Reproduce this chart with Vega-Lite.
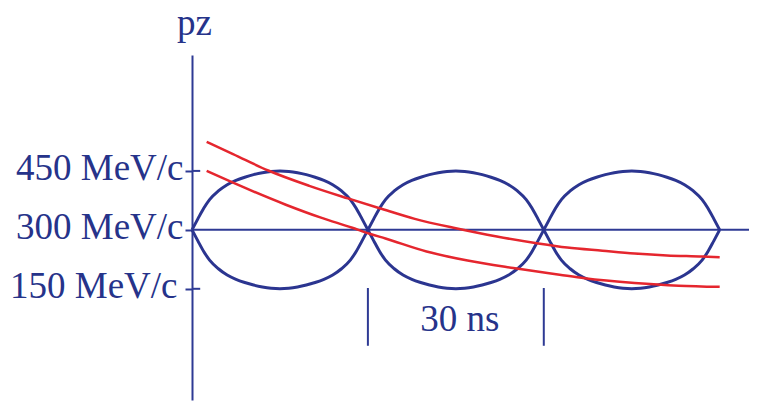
{
  "$schema": "https://vega.github.io/schema/vega-lite/v6.json",
  "autosize": {"type": "none"},
  "padding": {"left": 192, "top": 55, "right": 32, "bottom": 1},
  "width": 557,
  "height": 345,
  "background": "white",
  "config": {"view": {"stroke": null}},
  "datasets": {
    "buckets": [
      {"s": "b1u", "t": 0, "p": 300}, {"s": "b1u", "t": 1, "p": 328}, {"s": "b1u", "t": 2, "p": 355}, {"s": "b1u", "t": 3, "p": 377}, {"s": "b1u", "t": 4.5, "p": 399}, {"s": "b1u", "t": 6, "p": 415}, {"s": "b1u", "t": 7.5, "p": 426}, {"s": "b1u", "t": 9, "p": 434}, {"s": "b1u", "t": 10.5, "p": 440.5}, {"s": "b1u", "t": 12, "p": 445.5}, {"s": "b1u", "t": 13.5, "p": 448.8}, {"s": "b1u", "t": 15, "p": 450}, {"s": "b1u", "t": 16.5, "p": 448.8}, {"s": "b1u", "t": 18, "p": 445.5}, {"s": "b1u", "t": 19.5, "p": 440.5}, {"s": "b1u", "t": 21, "p": 434}, {"s": "b1u", "t": 22.5, "p": 426}, {"s": "b1u", "t": 24, "p": 415}, {"s": "b1u", "t": 25.5, "p": 399}, {"s": "b1u", "t": 27, "p": 377}, {"s": "b1u", "t": 28, "p": 355}, {"s": "b1u", "t": 29, "p": 328}, {"s": "b1u", "t": 30, "p": 300},
      {"s": "b1l", "t": 0, "p": 300}, {"s": "b1l", "t": 1, "p": 272}, {"s": "b1l", "t": 2, "p": 245}, {"s": "b1l", "t": 3, "p": 223}, {"s": "b1l", "t": 4.5, "p": 201}, {"s": "b1l", "t": 6, "p": 185}, {"s": "b1l", "t": 7.5, "p": 174}, {"s": "b1l", "t": 9, "p": 166}, {"s": "b1l", "t": 10.5, "p": 159.5}, {"s": "b1l", "t": 12, "p": 154.5}, {"s": "b1l", "t": 13.5, "p": 151.2}, {"s": "b1l", "t": 15, "p": 150}, {"s": "b1l", "t": 16.5, "p": 151.2}, {"s": "b1l", "t": 18, "p": 154.5}, {"s": "b1l", "t": 19.5, "p": 159.5}, {"s": "b1l", "t": 21, "p": 166}, {"s": "b1l", "t": 22.5, "p": 174}, {"s": "b1l", "t": 24, "p": 185}, {"s": "b1l", "t": 25.5, "p": 201}, {"s": "b1l", "t": 27, "p": 223}, {"s": "b1l", "t": 28, "p": 245}, {"s": "b1l", "t": 29, "p": 272}, {"s": "b1l", "t": 30, "p": 300},
      {"s": "b2u", "t": 30, "p": 300}, {"s": "b2u", "t": 31, "p": 328}, {"s": "b2u", "t": 32, "p": 355}, {"s": "b2u", "t": 33, "p": 377}, {"s": "b2u", "t": 34.5, "p": 399}, {"s": "b2u", "t": 36, "p": 415}, {"s": "b2u", "t": 37.5, "p": 426}, {"s": "b2u", "t": 39, "p": 434}, {"s": "b2u", "t": 40.5, "p": 440.5}, {"s": "b2u", "t": 42, "p": 445.5}, {"s": "b2u", "t": 43.5, "p": 448.8}, {"s": "b2u", "t": 45, "p": 450}, {"s": "b2u", "t": 46.5, "p": 448.8}, {"s": "b2u", "t": 48, "p": 445.5}, {"s": "b2u", "t": 49.5, "p": 440.5}, {"s": "b2u", "t": 51, "p": 434}, {"s": "b2u", "t": 52.5, "p": 426}, {"s": "b2u", "t": 54, "p": 415}, {"s": "b2u", "t": 55.5, "p": 399}, {"s": "b2u", "t": 57, "p": 377}, {"s": "b2u", "t": 58, "p": 355}, {"s": "b2u", "t": 59, "p": 328}, {"s": "b2u", "t": 60, "p": 300},
      {"s": "b2l", "t": 30, "p": 300}, {"s": "b2l", "t": 31, "p": 272}, {"s": "b2l", "t": 32, "p": 245}, {"s": "b2l", "t": 33, "p": 223}, {"s": "b2l", "t": 34.5, "p": 201}, {"s": "b2l", "t": 36, "p": 185}, {"s": "b2l", "t": 37.5, "p": 174}, {"s": "b2l", "t": 39, "p": 166}, {"s": "b2l", "t": 40.5, "p": 159.5}, {"s": "b2l", "t": 42, "p": 154.5}, {"s": "b2l", "t": 43.5, "p": 151.2}, {"s": "b2l", "t": 45, "p": 150}, {"s": "b2l", "t": 46.5, "p": 151.2}, {"s": "b2l", "t": 48, "p": 154.5}, {"s": "b2l", "t": 49.5, "p": 159.5}, {"s": "b2l", "t": 51, "p": 166}, {"s": "b2l", "t": 52.5, "p": 174}, {"s": "b2l", "t": 54, "p": 185}, {"s": "b2l", "t": 55.5, "p": 201}, {"s": "b2l", "t": 57, "p": 223}, {"s": "b2l", "t": 58, "p": 245}, {"s": "b2l", "t": 59, "p": 272}, {"s": "b2l", "t": 60, "p": 300},
      {"s": "b3u", "t": 60, "p": 300}, {"s": "b3u", "t": 61, "p": 328}, {"s": "b3u", "t": 62, "p": 355}, {"s": "b3u", "t": 63, "p": 377}, {"s": "b3u", "t": 64.5, "p": 399}, {"s": "b3u", "t": 66, "p": 415}, {"s": "b3u", "t": 67.5, "p": 426}, {"s": "b3u", "t": 69, "p": 434}, {"s": "b3u", "t": 70.5, "p": 440.5}, {"s": "b3u", "t": 72, "p": 445.5}, {"s": "b3u", "t": 73.5, "p": 448.8}, {"s": "b3u", "t": 75, "p": 450}, {"s": "b3u", "t": 76.5, "p": 448.8}, {"s": "b3u", "t": 78, "p": 445.5}, {"s": "b3u", "t": 79.5, "p": 440.5}, {"s": "b3u", "t": 81, "p": 434}, {"s": "b3u", "t": 82.5, "p": 426}, {"s": "b3u", "t": 84, "p": 415}, {"s": "b3u", "t": 85.5, "p": 399}, {"s": "b3u", "t": 87, "p": 377}, {"s": "b3u", "t": 88, "p": 355}, {"s": "b3u", "t": 89, "p": 328}, {"s": "b3u", "t": 90, "p": 300},
      {"s": "b3l", "t": 60, "p": 300}, {"s": "b3l", "t": 61, "p": 272}, {"s": "b3l", "t": 62, "p": 245}, {"s": "b3l", "t": 63, "p": 223}, {"s": "b3l", "t": 64.5, "p": 201}, {"s": "b3l", "t": 66, "p": 185}, {"s": "b3l", "t": 67.5, "p": 174}, {"s": "b3l", "t": 69, "p": 166}, {"s": "b3l", "t": 70.5, "p": 159.5}, {"s": "b3l", "t": 72, "p": 154.5}, {"s": "b3l", "t": 73.5, "p": 151.2}, {"s": "b3l", "t": 75, "p": 150}, {"s": "b3l", "t": 76.5, "p": 151.2}, {"s": "b3l", "t": 78, "p": 154.5}, {"s": "b3l", "t": 79.5, "p": 159.5}, {"s": "b3l", "t": 81, "p": 166}, {"s": "b3l", "t": 82.5, "p": 174}, {"s": "b3l", "t": 84, "p": 185}, {"s": "b3l", "t": 85.5, "p": 201}, {"s": "b3l", "t": 87, "p": 223}, {"s": "b3l", "t": 88, "p": 245}, {"s": "b3l", "t": 89, "p": 272}, {"s": "b3l", "t": 90, "p": 300}
    ],
    "red": [
      {"s": "upper", "t": 2.5, "p": 524}, {"s": "upper", "t": 7, "p": 493}, {"s": "upper", "t": 13, "p": 451}, {"s": "upper", "t": 20, "p": 412}, {"s": "upper", "t": 26.6, "p": 380}, {"s": "upper", "t": 32, "p": 355}, {"s": "upper", "t": 38, "p": 328}, {"s": "upper", "t": 45, "p": 304}, {"s": "upper", "t": 52, "p": 283}, {"s": "upper", "t": 58.8, "p": 266}, {"s": "upper", "t": 64, "p": 255}, {"s": "upper", "t": 70, "p": 247}, {"s": "upper", "t": 75.5, "p": 240}, {"s": "upper", "t": 81, "p": 235}, {"s": "upper", "t": 87, "p": 232}, {"s": "upper", "t": 90, "p": 230},
      {"s": "lower", "t": 2.5, "p": 450}, {"s": "lower", "t": 7, "p": 420}, {"s": "lower", "t": 16, "p": 364}, {"s": "lower", "t": 22, "p": 331}, {"s": "lower", "t": 27.2, "p": 306}, {"s": "lower", "t": 30.3, "p": 290}, {"s": "lower", "t": 33, "p": 278}, {"s": "lower", "t": 40, "p": 245}, {"s": "lower", "t": 47, "p": 222}, {"s": "lower", "t": 54.8, "p": 203}, {"s": "lower", "t": 62.7, "p": 186}, {"s": "lower", "t": 67, "p": 177}, {"s": "lower", "t": 75.5, "p": 165}, {"s": "lower", "t": 83, "p": 158}, {"s": "lower", "t": 90, "p": 155}
    ],
    "hline": [{"t": 0, "t2": 95, "p": 300}],
    "innerticks": [{"t": 0, "t2": 1.4, "p": 150}, {"t": 0, "t2": 1.4, "p": 450}],
    "markers": [{"t": 30, "p": 5, "p2": 152}, {"t": 60, "p": 5, "p2": 152}],
    "labels": [{"t": 45.7, "p": 43, "txt": "30 ns"}]
  },
  "layer": [
    {
      "data": {"name": "hline"},
      "mark": {"type": "rule", "color": "#2e3a94", "strokeWidth": 2},
      "encoding": {
        "x": {"field": "t", "type": "quantitative", "scale": {"domain": [0, 95], "nice": false, "zero": false}, "axis": null},
        "x2": {"field": "t2"},
        "y": {"field": "p", "type": "quantitative", "scale": {"domain": [-133, 745], "nice": false, "zero": false},
              "axis": {
                "values": [150, 300, 450],
                "labelExpr": "datum.value + ' MeV/c'",
                "labelFont": "Liberation Serif",
                "labelFontSize": 37,
                "labelColor": "#26338a",
                "labelPadding": {"condition": {"test": "datum.value == 150", "value": 8}, "value": 2},
                "labelBaseline": "middle",
                "labelOffset": -2,
                "domainColor": "#2e3a94",
                "domainWidth": 2,
                "tickColor": "#2e3a94",
                "tickWidth": 2,
                "tickSize": 7,
                "grid": false,
                "title": "pz",
                "titleFont": "Liberation Serif",
                "titleFontSize": 37,
                "titleFontWeight": "normal",
                "titleColor": "#26338a",
                "titleAngle": 0,
                "titleAlign": "center",
                "titleBaseline": "alphabetic",
                "titleX": 2,
                "titleY": -21
              }}
      }
    },
    {
      "data": {"name": "innerticks"},
      "mark": {"type": "rule", "color": "#2e3a94", "strokeWidth": 2},
      "encoding": {"x": {"field": "t", "type": "quantitative"}, "x2": {"field": "t2"}, "y": {"field": "p", "type": "quantitative"}}
    },
    {
      "data": {"name": "markers"},
      "mark": {"type": "rule", "color": "#2e3a94", "strokeWidth": 2},
      "encoding": {"x": {"field": "t", "type": "quantitative"}, "y": {"field": "p", "type": "quantitative"}, "y2": {"field": "p2"}}
    },
    {
      "data": {"name": "buckets"},
      "mark": {"type": "line", "interpolate": "monotone", "color": "#2b3590", "strokeWidth": 3},
      "encoding": {
        "x": {"field": "t", "type": "quantitative"},
        "y": {"field": "p", "type": "quantitative"},
        "detail": {"field": "s"}
      }
    },
    {
      "data": {"name": "red"},
      "mark": {"type": "line", "interpolate": "monotone", "color": "#e5262e", "strokeWidth": 2.5},
      "encoding": {
        "x": {"field": "t", "type": "quantitative"},
        "y": {"field": "p", "type": "quantitative"},
        "detail": {"field": "s"}
      }
    },
    {
      "data": {"name": "labels"},
      "mark": {"type": "text", "font": "Liberation Serif", "fontSize": 37, "color": "#26338a", "align": "center", "baseline": "alphabetic"},
      "encoding": {
        "x": {"field": "t", "type": "quantitative"},
        "y": {"field": "p", "type": "quantitative"},
        "text": {"field": "txt"}
      }
    }
  ]
}
